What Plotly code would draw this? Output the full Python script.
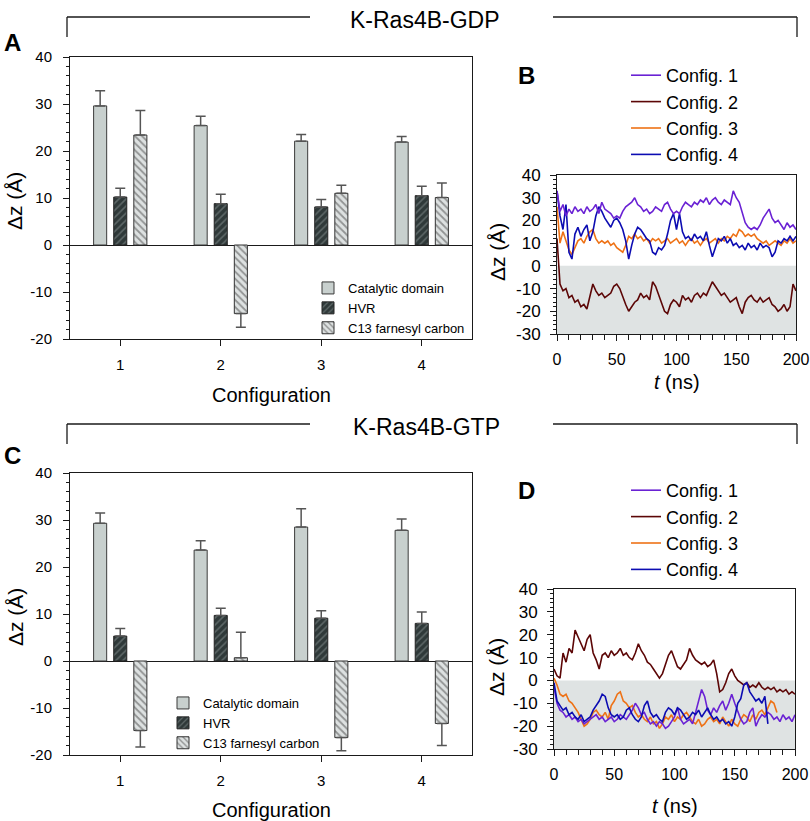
import plotly.graph_objects as go

# ---------------- data ----------------
CONFIG_X = [1, 2, 3, 4]
CONFIG_LABELS = ["1", "2", "3", "4"]
PARTS = ["Catalytic domain", "HVR", "C13 farnesyl carbon"]

BAR_Y_TICKS = [-20, -10, 0, 10, 20, 30, 40]
BAR_Y_LABELS = ["-20", "-10", "0", "10", "20", "30", "40"]
TS_Y_TICKS = [-30, -20, -10, 0, 10, 20, 30, 40]
TS_Y_LABELS = ["-30", "-20", "-10", "0", "10", "20", "30", "40"]

GDP_CAT = [29.6, 25.4, 22.1, 21.9]
GDP_CAT_ERR = [3.2, 2.0, 1.4, 1.2]
GDP_HVR = [10.2, 8.8, 8.1, 10.5]
GDP_HVR_ERR = [1.9, 2.0, 1.6, 2.0]
GDP_C13 = [23.4, -14.6, 11.0, 10.1]
GDP_C13_ERR = [5.2, 2.9, 1.7, 3.1]

GTP_CAT = [29.3, 23.6, 28.5, 27.8]
GTP_CAT_ERR = [2.2, 2.0, 3.9, 2.4]
GTP_HVR = [5.3, 9.7, 9.1, 8.0]
GTP_HVR_ERR = [1.6, 1.5, 1.6, 2.4]
GTP_C13 = [-14.8, 0.7, -16.3, -13.3]
GTP_C13_ERR = [3.5, 5.4, 2.8, 4.7]

# time grid (ns), sampled every 2.5 ns
T = [i * 2.5 for i in range(81)]

GDP_C1 = [33, 24, 27, 22, 25, 23, 26, 24, 25, 23, 26, 24, 25, 27, 23, 28, 25, 24, 23, 21,
          22, 21, 24, 26, 27, 28, 30, 27, 26, 24, 25, 23, 24, 26, 25, 24, 27, 28, 25, 23,
          24, 23, 26, 28, 27, 26, 28, 27, 29, 28, 30, 27, 29, 30, 28, 27, 29, 28, 27, 33,
          30, 28, 24, 19, 17, 16, 17, 16, 18, 21, 23, 25, 21, 19, 20, 18, 16, 19, 17, 18, 16]
GDP_C2 = [12, -8, -11, -10, -14, -13, -16, -15, -18, -17, -19, -14, -8, -11, -13, -12, -14, -13, -12, -9,
          -8, -10, -14, -17, -20, -18, -16, -15, -12, -14, -13, -15, -7, -9, -13, -16, -20, -21, -17, -15,
          -16, -18, -13, -15, -14, -16, -13, -12, -14, -12, -13, -10, -7, -9, -11, -13, -12, -14, -16, -15,
          -14, -18, -21, -16, -14, -13, -15, -16, -14, -16, -15, -14, -17, -18, -20, -19, -17, -20, -18, -8, -11]
GDP_C3 = [26, 10, 15, 11, 7, 5, 8, 11, 12, 10, 13, 15, 16, 12, 10, 11, 10, 11, 9, 10,
          8, 7, 6, 9, 13, 12, 14, 12, 13, 11, 12, 10, 12, 11, 12, 10, 11, 12, 10, 11,
          12, 10, 11, 9, 11, 12, 10, 11, 9, 11, 12, 10, 11, 12, 10, 12, 11, 13, 12, 14,
          13, 16, 15, 13, 14, 13, 14, 12, 11, 10, 11, 9, 10, 11, 10, 9, 11, 10, 12, 10, 11]
GDP_C4 = [33, 22, 16, 27, 6, 3, 14, 17, 13, 16, 18, 11, 15, 22, 26, 24, 21, 19, 17, 20,
          21, 19, 16, 11, 3, 9, 14, 17, 16, 14, 12, 11, 6, 5, 8, 7, 9, 14, 20, 23,
          16, 23, 15, 12, 13, 11, 14, 12, 13, 11, 15, 9, 4, 8, 12, 11, 13, 10, 12, 9,
          10, 8, 9, 7, 10, 8, 9, 7, 10, 8, 9, 8, 4, 6, 11, 10, 12, 11, 13, 11, 13]

GTP_C1 = [-3, -10, -13, -14, -16, -15, -17, -16, -18, -17, -19, -18, -17, -16, -15, -17, -16, -18, -17, -16,
          -18, -17, -15, -16, -17, -15, -13, -10, -12, -15, -14, -17, -19, -18, -20, -18, -19, -21, -20, -18,
          -16, -12, -17, -19, -18, -17, -19, -14, -9, -4, -7, -13, -15, -12, -14, -11, -9, -13, -10, -6,
          -10, -14, -17, -19, -18, -14, -12, -20, -17, -15, -16, -14, -15, -17, -16, -18, -15, -17, -16, -18, -15]
GTP_C2 = [5, 2, 1, 12, 8, 14, 12, 22, 19, 16, 13, 18, 20, 12, 9, 5, 11, 12, 10, 13,
          11, 12, 14, 11, 12, 10, 9, 12, 16, 13, 11, 8, 7, 5, 3, 1, 3, 7, 11, 13,
          9, 6, 5, 7, 9, 14, 11, 9, 8, 7, 8, 6, 7, 9, 3, -5, -4, -1, 3, 5,
          2, 0, -1, -2, -1, -3, -2, -3, -1, -3, -4, -3, -4, -3, -5, -4, -5, -4, -6, -5, -6]
GTP_C3 = [1, -2, -6, -7, -6, -9, -10, -12, -14, -17, -20, -19, -17, -14, -13, -15, -16, -14, -17, -11,
          -9, -6, -5, -9, -10, -12, -11, -14, -16, -15, -17, -18, -16, -19, -18, -21, -19, -16, -17, -15,
          -18, -16, -17, -15, -14, -16, -18, -19, -17, -20, -19, -17, -16, -18, -17, -19, -16, -18, -20, -17,
          -19, -20, -17, -15, -16, -18, -15, -17, -14, -13, -15, -12, -9, -10, -14]
GTP_C4 = [-1, -9, -11, -13, -12, -15, -14, -16, -17, -15, -18, -17, -16, -13, -11, -9, -6, -7, -12, -15,
          -16, -15, -17, -16, -13, -12, -15, -17, -18, -16, -11, -9, -14, -16, -15, -17, -18, -14, -12, -13,
          -15, -12, -13, -15, -17, -16, -14, -15, -13, -16, -14, -12, -15, -17, -16, -18, -17, -19, -18, -20,
          -16, -10, -8, -2, -1, -5, -7, -9, -8, -10, -7, -19]

CFG_COLORS = {1: "#6a22d4", 2: "#5c0606", 3: "#ee7216", 4: "#0c0cb2"}

FONT = "Liberation Sans, Arial, Helvetica, sans-serif"
W, H = 810, 821


def px(x):
    return x / W


def py(y):
    return 1 - y / H


fig = go.Figure()

BAR_STYLES = [
    dict(color="#c8d0ce", line=dict(color="#3a3a3a", width=1)),
    dict(color="#2f3939", line=dict(color="#222222", width=1),
         pattern=dict(shape="/", bgcolor="#2f3939", fgcolor="#8e9898", size=5, solidity=0.3)),
    dict(color="#dde1e1", line=dict(color="#333333", width=1),
         pattern=dict(shape="\\", bgcolor="#dde1e1", fgcolor="#454545", size=5, solidity=0.35)),
]


def add_bars(xa, ya, leg, series):
    for (name, vals, errs), style in zip(series, BAR_STYLES):
        up = [e if v >= 0 else 0 for v, e in zip(vals, errs)]
        dn = [e if v < 0 else 0 for v, e in zip(vals, errs)]
        fig.add_trace(go.Bar(
            x=CONFIG_X, y=vals, name=name, xaxis=xa, yaxis=ya, legend=leg,
            marker=style,
            error_y=dict(type="data", symmetric=False, array=up, arrayminus=dn,
                         color="#555555", thickness=1.5, width=5),
        ))


add_bars("x", "y", "legend", [(PARTS[0], GDP_CAT, GDP_CAT_ERR),
                               (PARTS[1], GDP_HVR, GDP_HVR_ERR),
                               (PARTS[2], GDP_C13, GDP_C13_ERR)])
add_bars("x3", "y3", "legend3", [(PARTS[0], GTP_CAT, GTP_CAT_ERR),
                                  (PARTS[1], GTP_HVR, GTP_HVR_ERR),
                                  (PARTS[2], GTP_C13, GTP_C13_ERR)])


def add_lines(xa, ya, leg, series, order):
    for k in order:
        vals = series[k]
        fig.add_trace(go.Scatter(
            x=T[:len(vals)], y=vals, mode="lines", name=f"Config. {k}",
            xaxis=xa, yaxis=ya, legend=leg, legendrank=k,
            line=dict(color=CFG_COLORS[k], width=1.6),
        ))


add_lines("x2", "y2", "legend2", {1: GDP_C1, 2: GDP_C2, 3: GDP_C3, 4: GDP_C4}, [2, 3, 4, 1])
add_lines("x4", "y4", "legend4", {1: GTP_C1, 2: GTP_C2, 3: GTP_C3, 4: GTP_C4}, [2, 3, 1, 4])

axis_common = dict(showline=True, linecolor="#1a1a1a", linewidth=1, mirror=True,
                   showgrid=False, ticks="outside", tickcolor="#1a1a1a", ticklen=6,
                   automargin=False, tickfont=dict(size=15, color="black"))

bar_x = dict(axis_common, range=[0.5, 4.5], tickvals=CONFIG_X, ticktext=CONFIG_LABELS,
             zeroline=False, ticklabelstandoff=6)
bar_y = dict(axis_common, range=[-20, 40], tickmode="array", tickvals=BAR_Y_TICKS,
             ticktext=BAR_Y_LABELS, zeroline=True, zerolinecolor="#1a1a1a",
             zerolinewidth=1, ticklabelstandoff=8,
             minor=dict(dtick=2, tick0=0, ticks="outside", ticklen=3, tickcolor="#1a1a1a"))
ts_x = dict(axis_common, range=[0, 200], dtick=50, zeroline=False,
            tickfont=dict(size=16, color="black"), ticklabelstandoff=5,
            minor=dict(dtick=10, ticks="outside", ticklen=5, tickcolor="#1a1a1a"))
ts_y = dict(axis_common, range=[-30, 40], tickmode="array", tickvals=TS_Y_TICKS,
            ticktext=TS_Y_LABELS, zeroline=False,
            tickfont=dict(size=17, color="black"), ticklabelstandoff=6,
            minor=dict(dtick=2, tick0=0, ticks="outside", ticklen=3, tickcolor="#1a1a1a"))

fig.update_layout(
    width=W, height=H, margin=dict(l=0, r=0, t=0, b=0, autoexpand=False),
    paper_bgcolor="white", plot_bgcolor="white",
    font=dict(family=FONT, color="black"),
    barmode="group", bargap=0.4, bargroupgap=0.35,
    xaxis=dict(bar_x, domain=[px(70), px(472)], anchor="y"),
    yaxis=dict(bar_y, domain=[py(339), py(57)], anchor="x"),
    xaxis2=dict(ts_x, domain=[px(557), px(796)], anchor="y2"),
    yaxis2=dict(ts_y, domain=[py(334), py(175)], anchor="x2"),
    xaxis3=dict(bar_x, domain=[px(70), px(472)], anchor="y3"),
    yaxis3=dict(bar_y, domain=[py(755), py(473)], anchor="x3"),
    xaxis4=dict(ts_x, domain=[px(554), px(795)], anchor="y4"),
    yaxis4=dict(ts_y, domain=[py(749), py(589)], anchor="x4"),
    legend=dict(x=px(308), y=py(273), xanchor="left", yanchor="top",
                font=dict(size=13), bgcolor="rgba(0,0,0,0)", tracegroupgap=0),
    legend3=dict(x=px(163), y=py(688), xanchor="left", yanchor="top",
                 font=dict(size=13), bgcolor="rgba(0,0,0,0)", tracegroupgap=0),
    legend2=dict(x=px(626), y=py(57), xanchor="left", yanchor="top",
                 font=dict(size=18), bgcolor="rgba(0,0,0,0)"),
    legend4=dict(x=px(626), y=py(472), xanchor="left", yanchor="top",
                 font=dict(size=18), bgcolor="rgba(0,0,0,0)"),
    showlegend=True,
)

shapes = []
# shaded negative region in the time-series panels
for xr, yr in (("x2", "y2"), ("x4", "y4")):
    shapes.append(dict(type="rect", xref=xr, yref=yr, x0=0, x1=200, y0=-30, y1=0,
                       fillcolor="#dfe3e3", line=dict(width=0), layer="below"))

# group brackets
for ly in (17, 424):
    for (x0, y0, x1, y1) in ((67, ly, 310, ly), (553, ly, 797, ly),
                             (67, ly, 67, ly + 20), (797, ly, 797, ly + 20)):
        shapes.append(dict(type="line", xref="paper", yref="paper",
                           x0=px(x0), y0=py(y0), x1=px(x1), y1=py(y1),
                           line=dict(color="#1a1a1a", width=1.3)))
fig.update_layout(shapes=shapes)

ann = []


def text(x, y, s, size, angle=0, bold=False):
    ann.append(dict(x=px(x), y=py(y), xref="paper", yref="paper", text=(f"<b>{s}</b>" if bold else s),
                    showarrow=False, xanchor="center", yanchor="middle", textangle=angle,
                    font=dict(size=size, family=FONT, color="black")))


text(425, 20, "K-Ras4B-GDP", 23)
text(426, 427, "K-Ras4B-GTP", 23)
text(12, 42, "A", 24, bold=True)
text(526, 75, "B", 24, bold=True)
text(12, 455, "C", 24, bold=True)
text(526, 490, "D", 24, bold=True)
text(15, 201, "Δz (Å)", 21, angle=-90)
text(15, 617, "Δz (Å)", 21, angle=-90)
text(498, 252, "Δz (Å)", 21, angle=-90)
text(496, 667, "Δz (Å)", 21, angle=-90)
text(271, 395, "Configuration", 20)
text(271, 810, "Configuration", 20)
text(677, 382, "<i>t</i> (ns)", 20)
text(675, 806, "<i>t</i> (ns)", 20)
fig.update_layout(annotations=ann)

fig.write_html("out.html", config={"displayModeBar": False},
               post_script="document.body.style.margin='0px';")
